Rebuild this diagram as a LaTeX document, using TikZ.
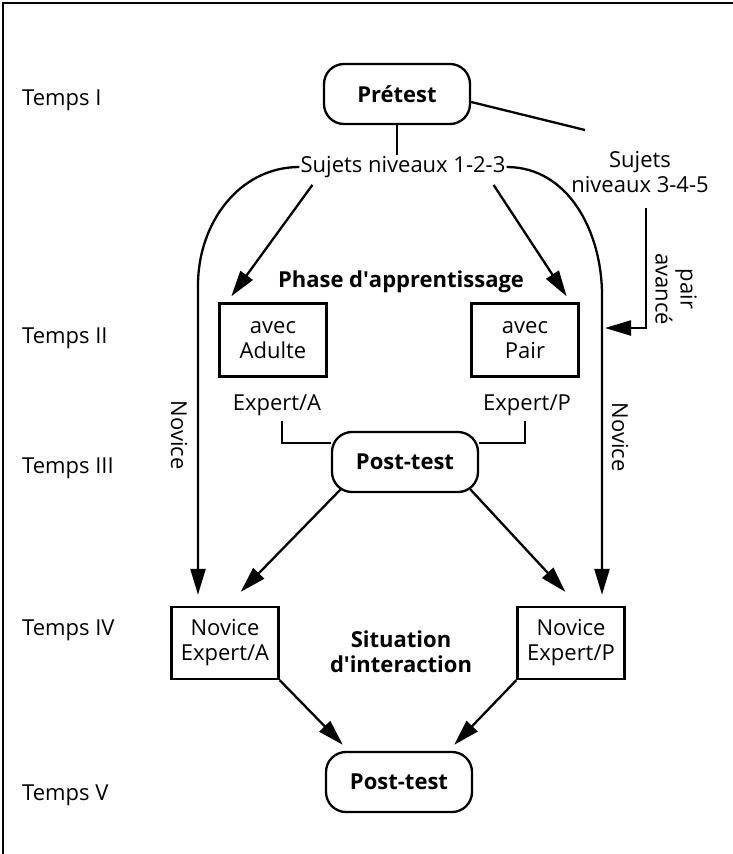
\documentclass[tikz,border=0pt]{standalone}
\usepackage{fontspec}
\setmainfont{Open Sans}
\usetikzlibrary{arrows.meta}

\newcommand{\taille}{\fontsize{22}{25}\selectfont}

\tikzset{
  temps/.style={anchor=west, inner sep=0pt},
  txt/.style={align=center, inner sep=1pt},
  cadre/.style={draw, line width=2.3pt, align=center, inner sep=1pt,
    minimum width=107pt, minimum height=73pt},
  test/.style={draw, line width=2.3pt, rounded corners=20pt, font=\taille\bfseries,
    minimum width=146pt, minimum height=60pt},
  trait/.style={line width=2.3pt},
  fl/.style={line width=2.3pt, -{Triangle[length=26pt,width=15pt]}}
}

\begin{document}
\begin{tikzpicture}[x=1pt,y=-1pt,font=\taille]
  \useasboundingbox (0,0) rectangle (733,854);
  \draw[line width=2.5pt] (733,3) -- (3,3) -- (3,854);

  % les temps
  \node[temps] (t1) at (22,100) {Temps I};
  \node[temps] (t2) at (22,338) {Temps II};
  \node[temps] (t3) at (22,468) {Temps III};
  \node[temps] (t4) at (22,630) {Temps IV};
  \node[temps] (t5) at (22,795) {Temps V};

  % temps I
  \node[test] (pre) at (397,94) {Prétest};
  \node[txt] (sujA) at (403,167) {Sujets niveaux 1-2-3};
  \node[txt] (sujB) at (640,172) {Sujets\\niveaux 3-4-5};
  \coordinate (bout) at (585,130);

  % temps II
  \node[txt,font=\taille\bfseries] (phase) at (401,282) {Phase d\textquotesingle apprentissage};
  \node[cadre] (avA) at (273,340) {avec\\Adulte};
  \node[cadre] (avP) at (525,340) {avec\\Pair};
  \node[txt] (expA) at (277,405) {Expert/A};
  \node[txt] (expP) at (527,405) {Expert/P};
  \node[txt,rotate=-90] (pav) at (676,289) {pair\\avancé};
  \coordinate (pa) at (646,208);
  \coordinate (paEnd) at (605,328);

  % temps III
  \node[test] (post) at (405,462) {Post-test};
  \node[txt,rotate=-90] (novL) at (179,435) {Novice};
  \node[txt,rotate=-90] (novR) at (620,437) {Novice};
  \coordinate (lcoude) at (198,285);
  \coordinate (rcoude) at (602,295);

  % temps IV
  \node[cadre,minimum height=72pt] (novA) at (225,643) {Novice\\Expert/A};
  \node[cadre,minimum height=72pt] (novP) at (571,643) {Novice\\Expert/P};
  \node[txt,font=\taille\bfseries] (sit) at (401,652) {Situation\\d\textquotesingle interaction};

  % temps V
  \node[test] (post2) at (399,782) {Post-test};

  % liaisons
  \draw[trait] ([yshift=-8pt]pre.east) -- (bout);
  \draw[trait] (pre.south) -- (pre.south |- sujA.north);
  \draw[fl,shorten >=11pt] (sujA.west) to[out=180,in=90] (lcoude) -- (lcoude |- novA.north);
  \draw[fl,shorten >=11pt] (sujA.east) to[out=0,in=90] (rcoude) -- (rcoude |- novP.north);
  \draw[fl] (pa) |- (paEnd);
  \draw[fl] ([xshift=13pt,yshift=-6pt]sujA.south west) -- ([xshift=13pt,yshift=6pt]avA.north west);
  \draw[fl] ([xshift=-13pt,yshift=-6pt]sujA.south east) -- ([xshift=-13pt,yshift=6pt]avP.north east);
  \draw[trait] ([xshift=5pt,yshift=-4pt]expA.south) |- ([yshift=19pt]post.west);
  \draw[trait] ([xshift=-2pt,yshift=-4pt]expP.south) |- ([yshift=19pt]post.east);
  \draw[fl] ([xshift=10pt,yshift=4pt]post.south west) -- ([xshift=-39pt,yshift=14pt]novA.north east);
  \draw[fl] ([xshift=-9pt,yshift=4pt]post.south east) -- ([xshift=49pt,yshift=14pt]novP.north west);
  \draw[fl] (novA.south east) -- ([xshift=18pt,yshift=6pt]post2.north west);
  \draw[fl] (novP.south west) -- ([xshift=-19pt,yshift=6pt]post2.north east);
\end{tikzpicture}
\end{document}
